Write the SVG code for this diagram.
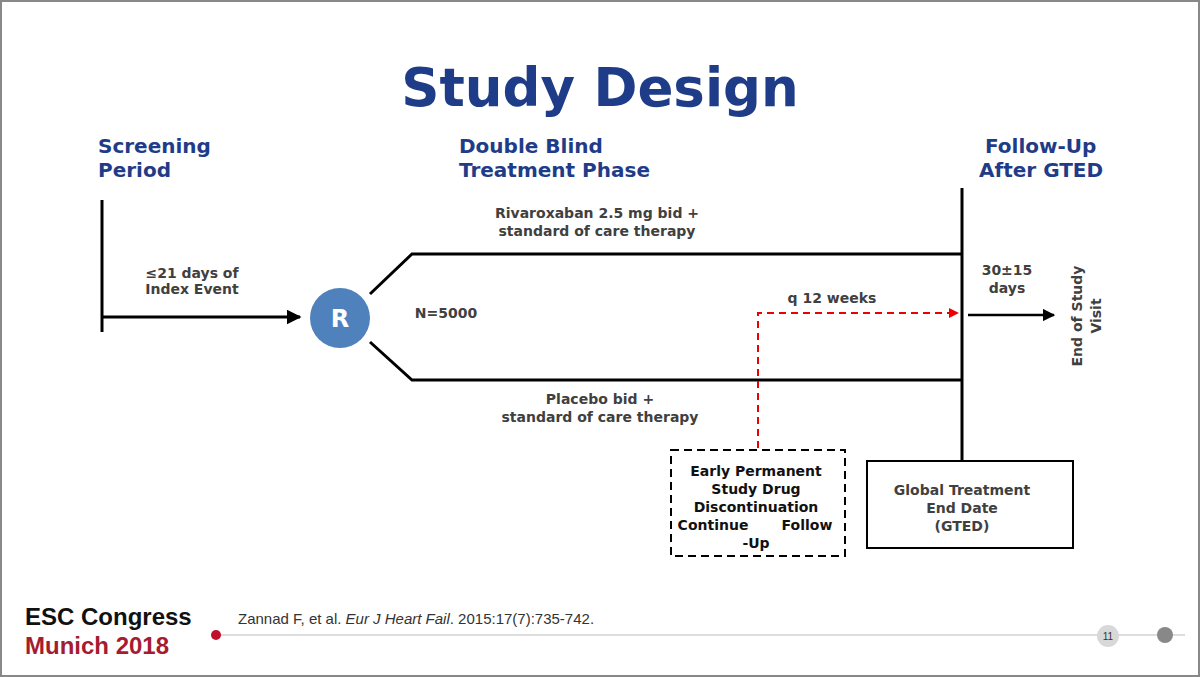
<svg xmlns="http://www.w3.org/2000/svg" width="1200" height="677" viewBox="0 0 1200 677">
<defs>
<style>
.h{font-family:"DejaVu Sans",Verdana,sans-serif;font-weight:bold;fill:#1f3c88;font-size:20px}
.t{font-family:"DejaVu Sans",Verdana,sans-serif;font-weight:bold;fill:#404040;font-size:14px;text-anchor:middle}
.k{font-family:"DejaVu Sans",Verdana,sans-serif;font-weight:bold;fill:#111;font-size:14px;text-anchor:middle}
.ln{stroke:#000;stroke-width:3;fill:none}
</style>
<marker id="a" viewBox="0 0 10 10" refX="9" refY="5" markerWidth="5" markerHeight="5" orient="auto"><path d="M0,0L10,5L0,10z" fill="#000"/></marker>
<marker id="ar" viewBox="0 0 10 10" refX="9" refY="5" markerWidth="5" markerHeight="5" orient="auto"><path d="M0,0L10,5L0,10z" fill="#e00"/></marker>
</defs>
<rect x="0" y="0" width="1200" height="677" fill="#fff" stroke="#888" stroke-width="4"/>
<text x="600" y="106" text-anchor="middle" font-family="DejaVu Sans,Verdana,sans-serif" font-weight="bold" font-size="53" fill="#1f3c88">Study Design</text>
<text class="h" x="98" y="153">Screening</text><text class="h" x="98" y="177">Period</text>
<text class="h" x="459" y="153">Double Blind</text><text class="h" x="459" y="177">Treatment Phase</text>
<text class="h" x="985" y="153">Follow-Up</text><text class="h" x="979" y="177">After GTED</text>
<g id="connectors">
<path class="ln" d="M102,200V332"/>
<path class="ln" d="M102,317H300" marker-end="url(#a)"/>
<path class="ln" d="M370,294L412,254H962"/>
<path class="ln" d="M370,342L412,380H962"/>
<path class="ln" d="M962,188V460"/>
<path d="M968,315H1054" stroke="#000" stroke-width="2.5" marker-end="url(#a)"/>
<path d="M758,448V313H958" stroke="#e00" stroke-width="2" stroke-dasharray="7,5" fill="none" marker-end="url(#ar)"/>
</g>
<g id="R"><circle cx="340" cy="318" r="30" fill="#4f81bd"/><text x="340" y="327" text-anchor="middle" font-family="DejaVu Sans,sans-serif" font-weight="bold" font-size="24" fill="#fff">R</text></g>
<text class="t" x="192" y="278">≤21 days of</text><text class="t" x="192" y="294">Index Event</text>
<text class="t" x="597" y="218">Rivaroxaban 2.5 mg bid +</text><text class="t" x="597" y="236">standard of care therapy</text>
<text class="t" x="446" y="318">N=5000</text>
<text class="t" x="832" y="303">q 12 weeks</text>
<text class="t" x="600" y="404">Placebo bid +</text><text class="t" x="600" y="422">standard of care therapy</text>
<text class="t" x="1007" y="275">30±15</text><text class="t" x="1007" y="293">days</text>
<text class="t" transform="translate(1082,316) rotate(-90)" font-size="16">End of Study</text>
<text class="t" transform="translate(1101,316) rotate(-90)" font-size="16">Visit</text>
<g id="early"><rect x="671" y="450" width="174" height="106" fill="#fff" stroke="#000" stroke-width="2" stroke-dasharray="8,5"/>
<text class="k" x="756" y="476">Early Permanent</text><text class="k" x="756" y="494">Study Drug</text><text class="k" x="756" y="512">Discontinuation</text>
<text class="k" x="713" y="530">Continue</text><text class="k" x="807" y="530">Follow</text><text class="k" x="756" y="548">-Up</text></g>
<g id="gted"><rect x="867" y="461" width="206" height="87" fill="#fff" stroke="#000" stroke-width="2"/>
<text class="t" x="962" y="495">Global Treatment</text><text class="t" x="962" y="513">End Date</text><text class="t" x="962" y="531">(GTED)</text></g>
<text x="25" y="625" font-family="Liberation Sans,Arial,sans-serif" font-weight="bold" font-size="24" fill="#111">ESC Congress</text>
<text x="25" y="654" font-family="Liberation Sans,Arial,sans-serif" font-weight="bold" font-size="24" fill="#a51c30">Munich 2018</text>
<text x="238" y="624" font-family="Liberation Sans,Arial,sans-serif" font-size="15" fill="#333">Zannad F, et al. <tspan font-style="italic">Eur J Heart Fail</tspan>. 2015:17(7):735-742.</text>
<line x1="216" y1="635" x2="1185" y2="635" stroke="#ddd" stroke-width="2"/>
<circle cx="216" cy="635" r="5" fill="#c0102a"/>
<circle cx="1108" cy="636" r="11" fill="#d8d8d8"/><text x="1108" y="640" text-anchor="middle" font-family="Liberation Sans,sans-serif" font-size="10" fill="#333">11</text>
<circle cx="1165" cy="635" r="8" fill="#888"/>
</svg>
